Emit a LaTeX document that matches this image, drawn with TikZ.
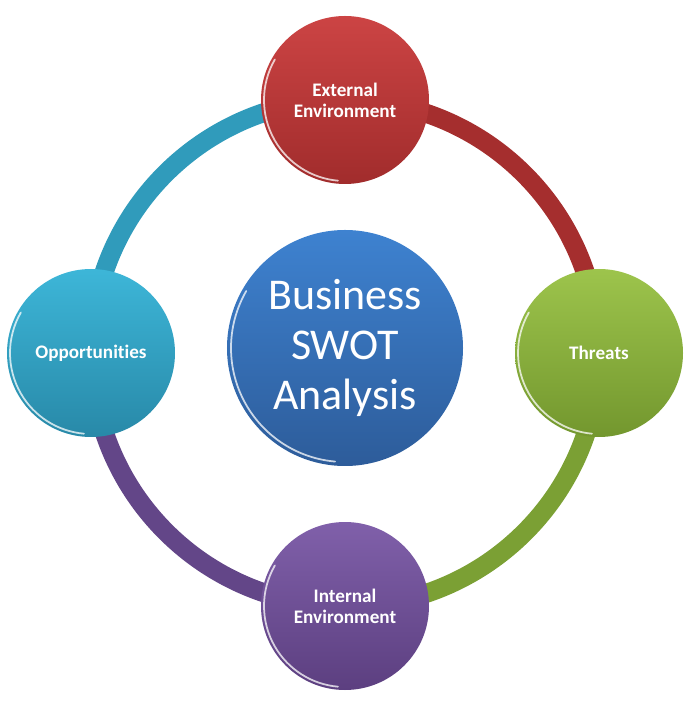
\documentclass[tikz,border=0pt]{standalone}
\usepackage{fontspec}
\setmainfont[Ligatures=NoCommon]{Carlito}
\usepackage{xcolor}
\usepackage{tikz}

\definecolor{redtop}{HTML}{CC4444}
\definecolor{redbot}{HTML}{A12C2C}
\definecolor{grntop}{HTML}{9DC44C}
\definecolor{grnbot}{HTML}{73972E}
\definecolor{purtop}{HTML}{8060AA}
\definecolor{purbot}{HTML}{5C3F80}
\definecolor{cyntop}{HTML}{3DB6D8}
\definecolor{cynbot}{HTML}{2889A8}
\definecolor{blutop}{HTML}{3E82D0}
\definecolor{blubot}{HTML}{2D5C9A}

\tikzset{
  ball/.style={circle, minimum size=3.36cm, inner sep=0pt, text=white,
    font=\fontsize{10.9}{12}\selectfont\bfseries, align=center},
  hub/.style={ball, minimum size=4.72cm, font=\fontsize{25}{28.4}\selectfont},
  band/.style={line width=0.38cm},
  gloss/.style={white, opacity=0.75, line width=1pt, line cap=round}
}

\begin{document}
\begin{tikzpicture}
  \useasboundingbox (-6.9,-6.98) rectangle (7.08,7.06);
  % positions on the ring
  \coordinate (pe) at (90:5.06);
  \coordinate (pt) at (0:5.08);
  \coordinate (pi) at (270:5.06);
  \coordinate (po) at (180:5.08);
  % ring segments
  \draw[band, redbot!90!redtop] (pe) arc[start angle=90, end angle=0, radius=5.07cm];
  \draw[band, grnbot!80!grntop] (pt) arc[start angle=0, end angle=-90, radius=5.07cm];
  \draw[band, purbot!80!purtop] (pi) arc[start angle=270, end angle=180, radius=5.07cm];
  \draw[band, cynbot!60!cyntop] (po) arc[start angle=180, end angle=90, radius=5.07cm];
  % satellites
  \node[ball, top color=redtop, bottom color=redbot] (ext) at (pe) {External\\Environment};
  \node[ball, top color=grntop, bottom color=grnbot] (thr) at (pt) {Threats};
  \node[ball, top color=purtop, bottom color=purbot] (int) at (pi) {Internal\\Environment};
  \node[ball, top color=cyntop, bottom color=cynbot] (opp) at (po) {Opportunities};
  \node[hub, top color=blutop, bottom color=blubot] (swot) at (0,0.1) {Business\\SWOT\\Analysis};
  % glossy rims
  \foreach \n in {ext,thr,int,opp}
    \draw[gloss] ([shift={(150:1.62)}]\n.center) arc[start angle=150, end angle=265, radius=1.62cm];
  \draw[gloss] ([shift={(150:2.28)}]swot.center) arc[start angle=150, end angle=265, radius=2.28cm];
\end{tikzpicture}
\end{document}
